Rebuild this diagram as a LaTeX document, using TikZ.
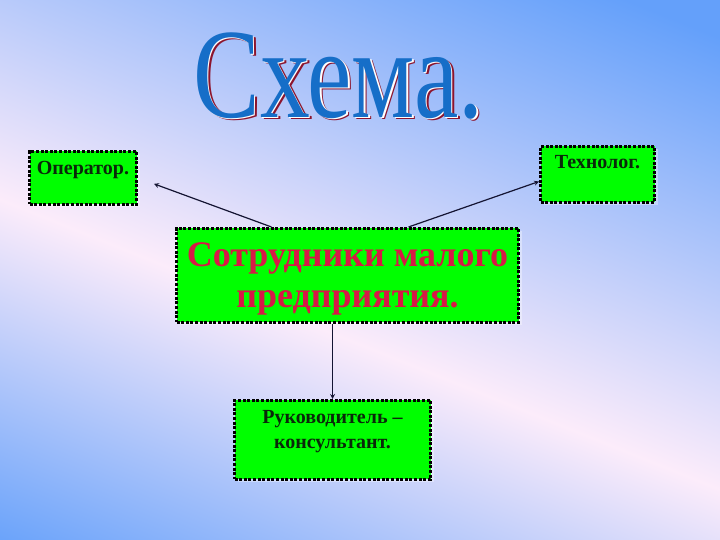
\documentclass[tikz,border=0pt]{standalone}
\usepackage{fontspec}
\setmainfont{Liberation Serif}
\usepackage{graphicx}
\usetikzlibrary{shadows}
\definecolor{skyblue}{RGB}{100,160,250}
\definecolor{blush}{RGB}{252,236,250}
\definecolor{wordblue}{RGB}{22,110,200}
\definecolor{wordred}{RGB}{140,20,45}
\definecolor{boxgreen}{RGB}{0,255,0}
\definecolor{inkred}{RGB}{215,25,70}
\definecolor{inkdark}{RGB}{10,40,10}
\definecolor{linknavy}{RGB}{20,20,50}
\tikzset{
    staffbox/.style={
        draw=black, fill=boxgreen, line width=3pt,
        dash pattern=on 3pt off 1.6pt,
        inner xsep=0pt, inner ysep=0pt, anchor=north west, text=inkdark,
        drop shadow={fill=white, opacity=0.35, shadow xshift=3pt, shadow yshift=-3pt}
    },
    link/.style={-stealth, line width=1.2pt, draw=linknavy},
    wordart/.style={inner sep=0pt, anchor=base, font=\fontsize{128}{130}\selectfont},
}
\newcommand{\titleword}{\scalebox{0.78}[1]{Схема.}}

\begin{document}
\begin{tikzpicture}[x=1pt, y=1pt]
    \useasboundingbox (0,0) rectangle (720,540);
    \begin{scope}
        \clip (0,0) rectangle (720,540);
        \fill[skyblue] (0,0) rectangle (720,540);
        \begin{scope}[transform canvas={rotate around={-21.94:(360,195)}}]
            \shade[top color=blush, bottom color=skyblue] (-340,-135) rectangle (1060,196);
            \shade[bottom color=blush, top color=skyblue] (-340,195) rectangle (1060,615);
        \end{scope}
    \end{scope}
    \node[wordart, text=wordred] (titleshade) at (341.5,420) {\titleword};
    \node[wordart, text=white] (titlerim) at (340,421) {\titleword};
    \node[wordart, text=wordblue] (title) at (338.5,422) {\titleword};
    \node[staffbox, minimum width=107pt, text height=23pt, text depth=30pt,
        font=\bfseries\fontsize{20}{24}\selectfont] (oper) at (28,390) {Оператор.};
    \node[staffbox, minimum width=114pt, text height=22pt, text depth=34pt,
        font=\bfseries\fontsize{20}{24}\selectfont] (tech) at (539,395) {Технолог.};
    \node[staffbox, minimum width=342pt, text height=79pt, text depth=15pt, align=center, text=inkred,
        font=\bfseries\fontsize{36}{41}\selectfont] (staff) at (175,313) {Сотрудники малого\\предприятия.};
    \node[staffbox, minimum width=196pt, text height=48pt, text depth=31pt, align=center,
        font=\bfseries\fontsize{20}{25}\selectfont] (chief) at (233,141) {Руководитель --\\консультант.};
    \draw[link, shorten >=17pt] ([xshift=-76pt]staff.north) -- (oper.east);
    \draw[link] ([xshift=61pt]staff.north) -- ([yshift=-7pt]tech.west);
    \draw[link] (staff.south -| chief.north) -- (chief.north);
\end{tikzpicture}
\end{document}
